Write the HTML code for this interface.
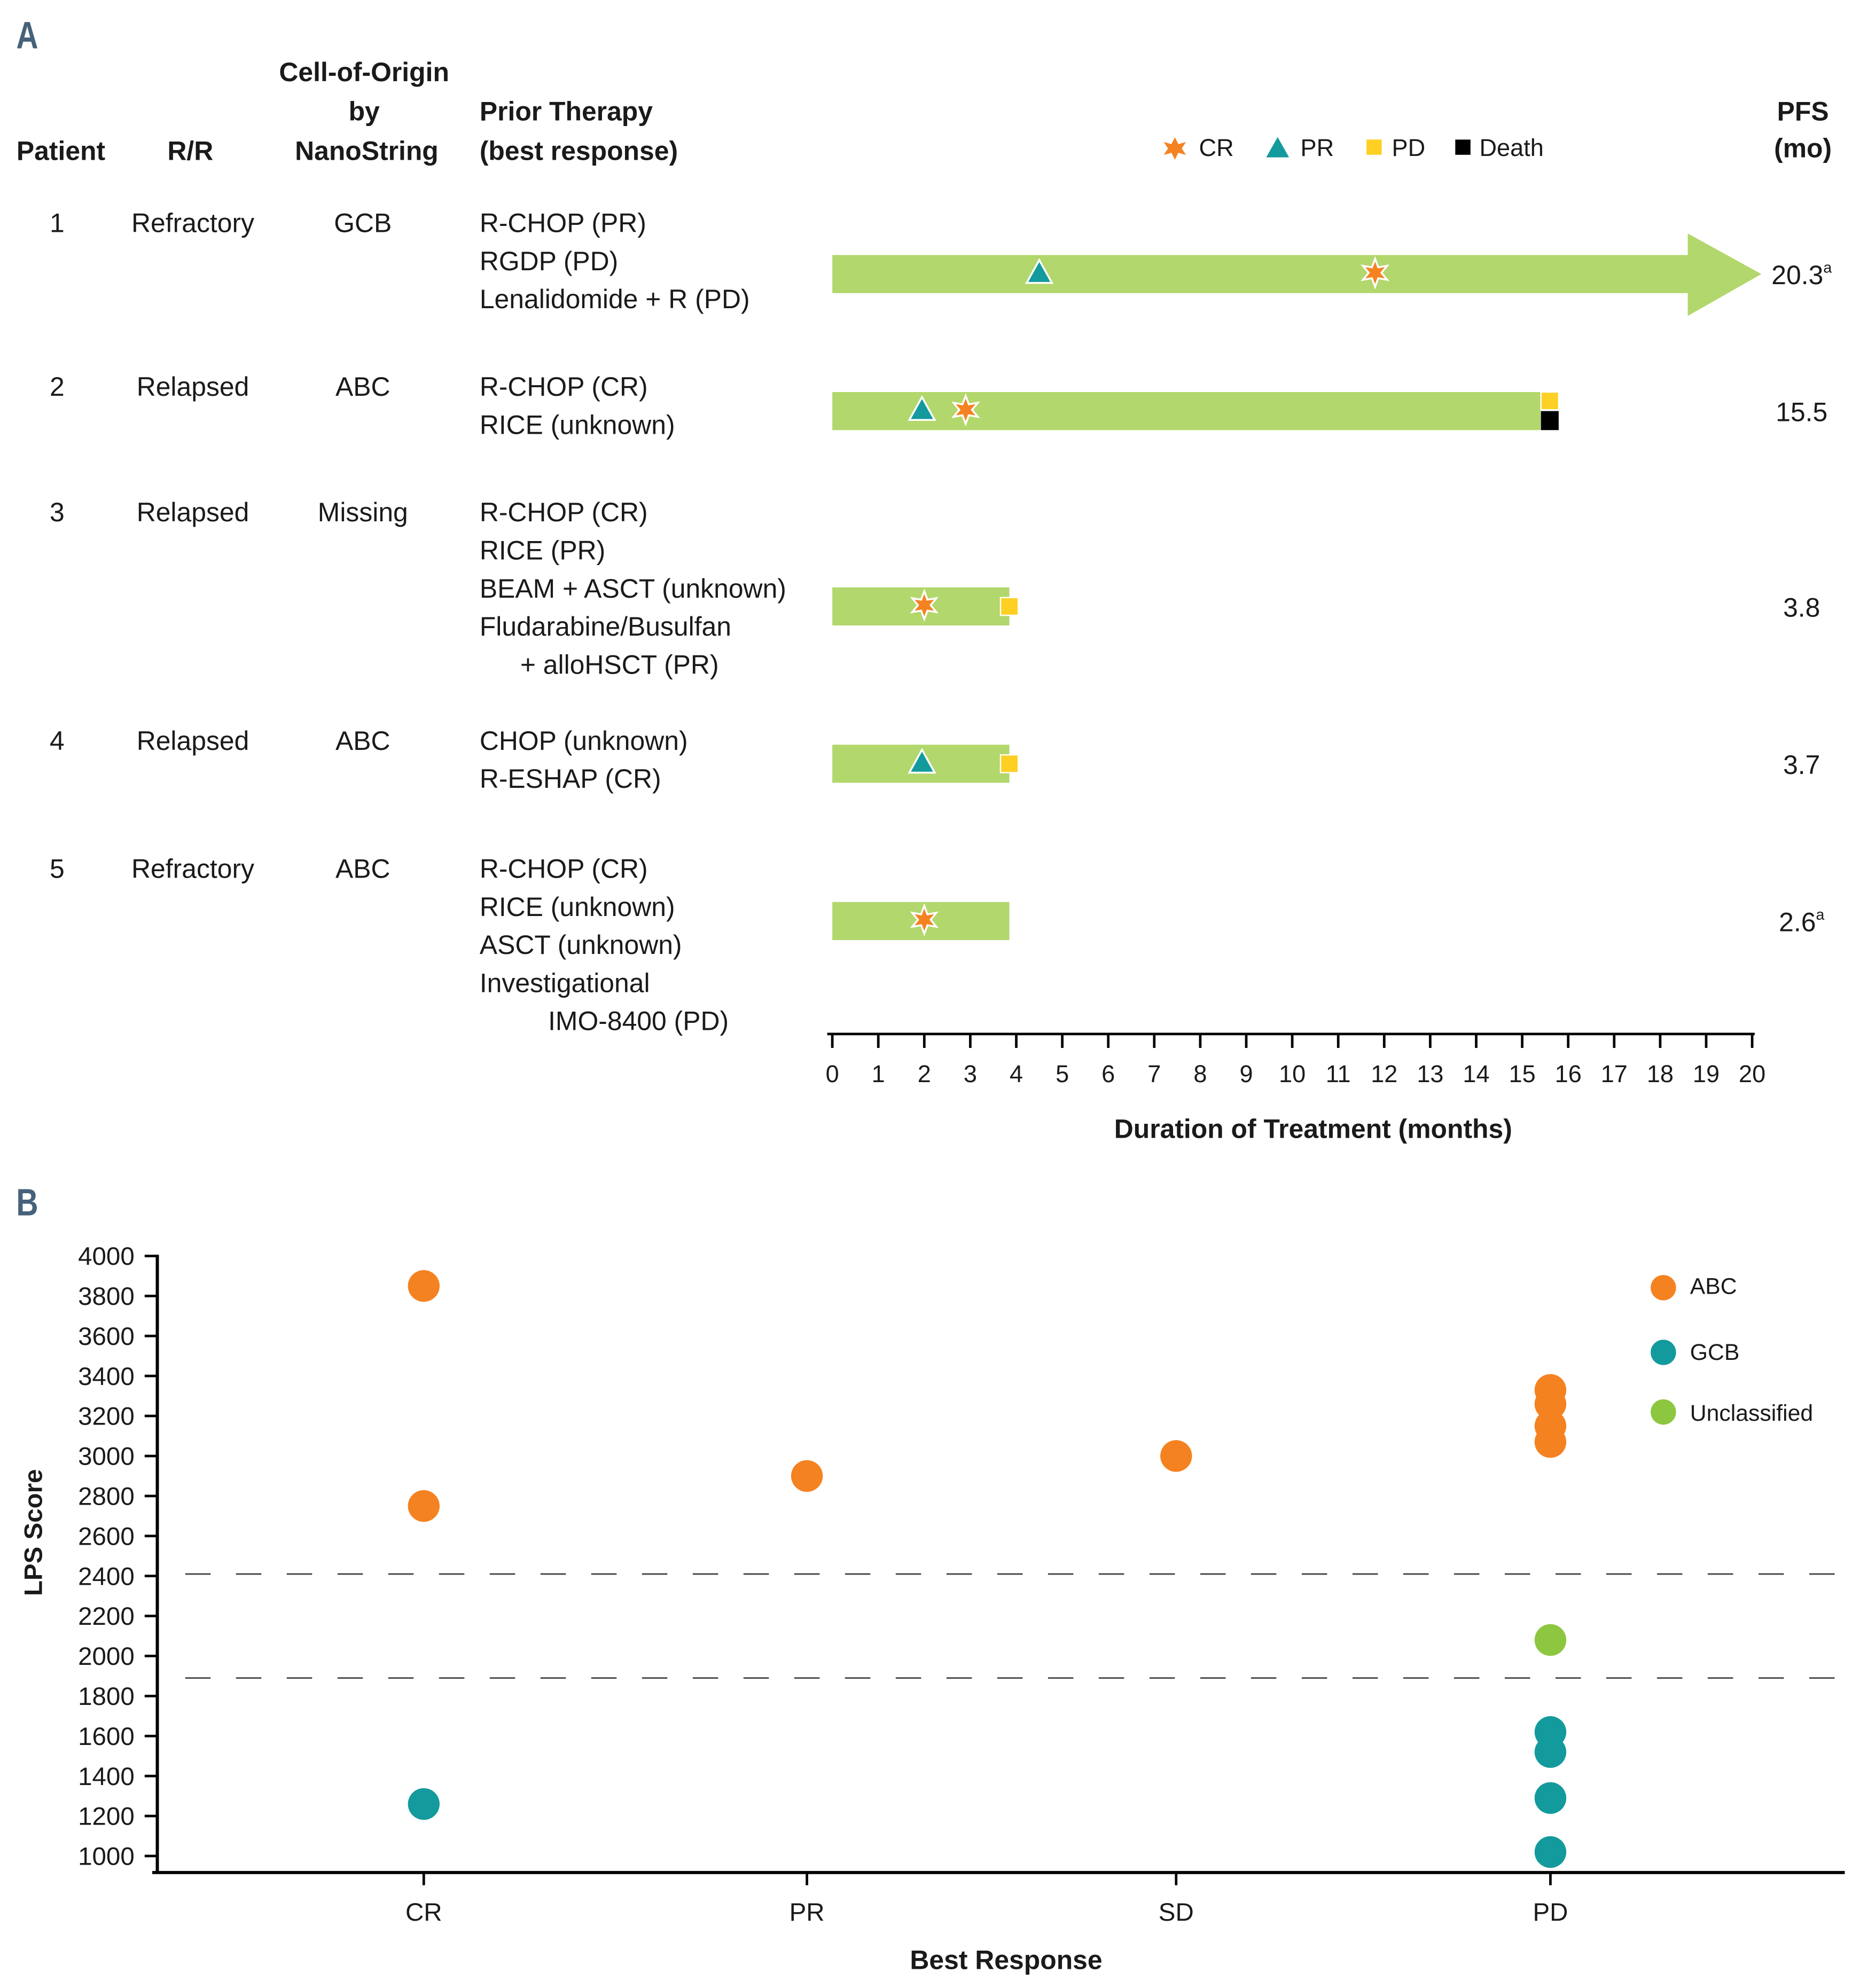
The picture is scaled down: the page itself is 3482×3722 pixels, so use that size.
<!DOCTYPE html>
<html><head><meta charset="utf-8"><style>
html,body{margin:0;padding:0;background:#fff}
svg{display:block}
text{font-family:"Liberation Sans",sans-serif;fill:#1a1a1a}
.b{font-weight:bold}
</style></head><body>
<svg id="fig" width="3482" height="3722" viewBox="0 0 1466 1567" xmlns="http://www.w3.org/2000/svg">
<text x="16" y="38" font-size="30" style="fill:#46627a" class="b" transform="scale(0.8,1)" >A</text>
<g font-size="21" class="b">
<text class="b" x="48" y="126" text-anchor="middle">Patient</text>
<text class="b" x="150" y="126" text-anchor="middle">R/R</text>
<text class="b" x="287" y="64" text-anchor="middle">Cell-of-Origin</text>
<text class="b" x="287" y="95" text-anchor="middle">by</text>
<text class="b" x="289" y="126" text-anchor="middle">NanoString</text>
<text class="b" x="378" y="95">Prior Therapy</text>
<text class="b" x="378" y="126">(best response)</text>
<text class="b" x="1421" y="95" text-anchor="middle">PFS</text>
<text class="b" x="1421" y="124" text-anchor="middle">(mo)</text>
</g>
<g id="tableRows" font-size="21"></g>
<g font-size="19">
<polygon points="926,107 929,113 936,111 932,117 936,123 929,121 926,127 923,121 916,123 920,117 916,111 923,113" fill="#f58220" stroke="#fff" stroke-width="1"/>
<text x="945" y="123">CR</text>
<polygon points="1007,108 1016,124 998,124" fill="#139a9c"/>
<text x="1025" y="123">PR</text>
<rect x="1077" y="110" width="12" height="12" fill="#fdd023"/>
<text x="1097" y="123">PD</text>
<rect x="1147" y="110" width="12" height="12" fill="#000"/>
<text x="1166" y="123">Death</text>
</g>
<g id="swimmer"></g>
<text class="b" x="1035" y="897" font-size="21" text-anchor="middle">Duration of Treatment (months)</text>
<text x="16" y="958" font-size="30" style="fill:#46627a" class="b" transform="scale(0.8,1)">B</text>
<g id="scatter"></g>
<text class="b" font-size="20" transform="translate(33,1208) rotate(-90)" text-anchor="middle">LPS Score</text>
<text class="b" x="793" y="1552" font-size="21" text-anchor="middle">Best Response</text>
<g font-size="18">
<circle cx="1311" cy="1015" r="10" fill="#f58220"/><text x="1332" y="1020">ABC</text>
<circle cx="1311" cy="1066" r="10" fill="#139a9c"/><text x="1332" y="1072">GCB</text>
<circle cx="1311" cy="1113" r="10" fill="#8dc63f"/><text x="1332" y="1120">Unclassified</text>
</g>
</svg>
<script>
const NS="http://www.w3.org/2000/svg";
// Panel A data
const patients=["1","2","3","4","5"];
const rrStatus=["Refractory","Relapsed","Relapsed","Relapsed","Refractory"];
const cellOrigin=["GCB","ABC","Missing","ABC","ABC"];
const priorTherapy=[["R-CHOP (PR)","RGDP (PD)","Lenalidomide + R (PD)"],["R-CHOP (CR)","RICE (unknown)"],["R-CHOP (CR)","RICE (PR)","BEAM + ASCT (unknown)","Fludarabine/Busulfan","+ alloHSCT (PR)"],["CHOP (unknown)","R-ESHAP (CR)"],["R-CHOP (CR)","RICE (unknown)","ASCT (unknown)","Investigational","IMO-8400 (PD)"]];
const therapyIndent=[[0,0,0],[0,0],[0,0,0,0,32],[0,0],[0,0,0,0,54]];
const durations=[18.6,15.4,3.85,3.85,3.85];
const ongoing=[true,false,false,false,false];
const pfsLabels=["20.3","15.5","3.8","3.7","2.6"];
const pfsSup=["a","","","","a"];
const prTimes=[[4.5],[1.95],[],[1.95],[]];
const crTimes=[[11.8],[2.9],[2.0],[],[2.0]];
const pdTimes=[[],[15.6],[3.85],[3.85],[]];
const deathTimes=[[],[15.6],[],[],[]];
const xTicksA=[0,1,2,3,4,5,6,7,8,9,10,11,12,13,14,15,16,17,18,19,20];
// Panel B data
const respCats=["CR","PR","SD","PD"];
const abcCat=["CR","CR","PR","SD","PD","PD","PD","PD"];
const abcVals=[3850,2750,2900,3000,3330,3260,3150,3070];
const gcbCat=["CR","PD","PD","PD","PD"];
const gcbVals=[1260,1620,1520,1290,1020];
const uncCat=["PD"];
const uncVals=[2080];
const yTicksB=[1000,1200,1400,1600,1800,2000,2200,2400,2600,2800,3000,3200,3400,3600,3800,4000];
const thresholds=[2410,1890];

function el(tag,attrs,parent){const e=document.createElementNS(NS,tag);for(const k in attrs)e.setAttribute(k,attrs[k]);parent.appendChild(e);return e;}
function txt(parent,x,y,s,anchor,size){const t=el("text",{x:x,y:y,"text-anchor":anchor||"start","font-size":size||21},parent);t.textContent=s;return t;}

const rowTop=[183,312,411,591,692];
const rowBarY=[216,324,478,602,726];
const tr=document.getElementById("tableRows");
patients.forEach((p,i)=>{
  const g=el("g",{},tr);
  
  
  txt(g,45,rowTop[i],p,"middle");
  txt(g,152,rowTop[i],rrStatus[i],"middle");
  txt(g,286,rowTop[i],cellOrigin[i],"middle");
  priorTherapy[i].forEach((s,j)=>txt(g,378+therapyIndent[i][j],rowTop[i]+j*30,s,"start"));
  const t=txt(g,1420,rowBarY[i]+8,pfsLabels[i],"middle");
  if(pfsSup[i]){const ts=el("tspan",{"font-size":12,dy:-9},t);ts.textContent=pfsSup[i];}
});

const sw=document.getElementById("swimmer");
const xA=m=>656+m*36.25;
const ax=el("line",{x1:652,x2:1383,y1:815,y2:815,stroke:"#000","stroke-width":2},sw);

xTicksA.forEach(t=>{el("line",{x1:xA(t),x2:xA(t),y1:815,y2:826,stroke:"#000","stroke-width":2},sw);txt(sw,xA(t),853,String(t),"middle",19);});
function star(g,cx,cy){const pts=[];for(let k=0;k<12;k++){const r=k%2?5:11;const a=-Math.PI/2+k*Math.PI/6;pts.push((cx+r*Math.cos(a)).toFixed(1)+","+(cy+r*Math.sin(a)).toFixed(1));}
 const s=el("polygon",{points:pts.join(" "),fill:"#f58220",stroke:"#fff","stroke-width":1.5},g);}
patients.forEach((p,i)=>{
  const cy=rowBarY[i];const x0=xA(0),x1=xA(durations[i]);
  let b;
  if(ongoing[i]){b=el("polygon",{points:`${x0},${cy-15} ${x1},${cy-15} ${x1},${cy-32} ${x1+58},${cy} ${x1},${cy+33} ${x1},${cy+15} ${x0},${cy+15}`,fill:"#b2d76c"},sw);}
  else b=el("rect",{x:x0,y:cy-15,width:x1-x0,height:30,fill:"#b2d76c"},sw);
  
  prTimes[i].forEach(t=>{const tri=el("polygon",{points:`${xA(t)},${cy-11} ${xA(t)+10},${cy+7} ${xA(t)-10},${cy+7}`,fill:"#139a9c",stroke:"#fff","stroke-width":1.5},sw);});
  crTimes[i].forEach(t=>star(sw,xA(t),cy-1));
  const hasDeath=deathTimes[i].length>0;
  pdTimes[i].forEach(t=>{const r=el("rect",{x:xA(t)-7,y:hasDeath?cy-15:cy-7,width:14,height:14,fill:"#fdd023",stroke:"#fff","stroke-width":1},sw);});
  deathTimes[i].forEach(t=>{const r=el("rect",{x:xA(t)-7,y:cy,width:14,height:15,fill:"#000"},sw);});
});

const sc=document.getElementById("scatter");
const yB=v=>1463-(v-1000)*0.15767;
const catX={CR:334,PR:636,SD:927,PD:1222};
const yax=el("line",{x1:124,x2:124,y1:989,y2:1477,stroke:"#000","stroke-width":2.5},sc);

const xax=el("line",{x1:120,x2:1454,y1:1476,y2:1476,stroke:"#000","stroke-width":2.5},sc);

yTicksB.forEach(v=>{el("line",{x1:114,x2:124,y1:yB(v),y2:yB(v),stroke:"#000","stroke-width":2},sc);txt(sc,106,yB(v)+7,String(v),"end",20);});
respCats.forEach(c=>{el("line",{x1:catX[c],x2:catX[c],y1:1476,y2:1486,stroke:"#000","stroke-width":2},sc);txt(sc,catX[c],1514,c,"middle",20);});
thresholds.forEach(v=>{const l=el("line",{x1:146,x2:1450,y1:yB(v),y2:yB(v),stroke:"#444","stroke-width":1.2,"stroke-dasharray":"20,20"},sc);});
function dots(cats,vals,color,name){cats.forEach((c,i)=>{const d=el("circle",{cx:catX[c],cy:yB(vals[i]),r:12.5,fill:color},sc);});}
dots(abcCat,abcVals,"#f58220","abc-point");
dots(gcbCat,gcbVals,"#139a9c","gcb-point");
dots(uncCat,uncVals,"#8dc63f","unclassified-point");
</script>
</body></html>
